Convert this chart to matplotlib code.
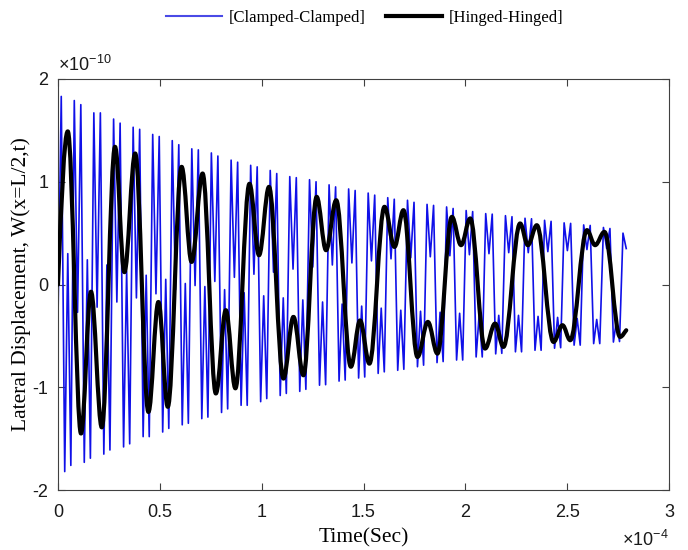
import numpy as np
import matplotlib
matplotlib.use("Agg")
import matplotlib.pyplot as plt
from matplotlib.path import Path
from matplotlib.patches import PathPatch
from matplotlib.lines import Line2D
from matplotlib.ticker import FixedLocator, FuncFormatter

# ---------------- data (time in 1e-4 s, displacement in 1e-10) ----------------
# Clamped-Clamped (blue): turning points
cc_top_t = [0.016, 0.080, 0.112, 0.176, 0.208, 0.273, 0.305, 0.369, 0.401, 0.465, 0.497,
            0.561, 0.593, 0.657, 0.689, 0.753, 0.785, 0.850, 0.882, 0.946, 0.978, 1.042,
            1.074, 1.138, 1.170, 1.235, 1.267, 1.331, 1.363, 1.427, 1.459, 1.523, 1.555,
            1.619, 1.651, 1.716, 1.748, 1.812, 1.844, 1.908, 1.940, 2.004, 2.036, 2.100,
            2.132, 2.197, 2.229, 2.293, 2.325, 2.389, 2.421, 2.485, 2.517, 2.581, 2.613,
            2.678, 2.710, 2.774]
cc_top_v = [1.83, 1.79, 1.75, 1.67, 1.67, 1.61, 1.57, 1.53, 1.51, 1.46, 1.44,
            1.40, 1.36, 1.32, 1.31, 1.28, 1.25, 1.21, 1.19, 1.16, 1.145, 1.11,
            1.08, 1.05, 1.04, 1.02, 1.00, 0.97, 0.95, 0.93, 0.915, 0.89, 0.87,
            0.845, 0.83, 0.82, 0.80, 0.78, 0.77, 0.755, 0.74, 0.72, 0.71, 0.69,
            0.685, 0.67, 0.66, 0.645, 0.64, 0.625, 0.615, 0.60, 0.595, 0.58, 0.575,
            0.555, 0.545, 0.50]
cc_bot_t = [0.033, 0.063, 0.129, 0.159, 0.225, 0.255, 0.322, 0.352, 0.418, 0.448, 0.514,
            0.544, 0.610, 0.640, 0.706, 0.736, 0.803, 0.833, 0.899, 0.929, 0.995, 1.025,
            1.091, 1.121, 1.187, 1.217, 1.284, 1.314, 1.380, 1.410, 1.476, 1.506, 1.572,
            1.602, 1.668, 1.698, 1.765, 1.795, 1.861, 1.891, 1.957, 1.987, 2.053, 2.083,
            2.149, 2.179, 2.246, 2.276, 2.342, 2.372, 2.438, 2.468, 2.534, 2.564, 2.630,
            2.660, 2.727, 2.757]
cc_bot_v = [-1.82, -1.76, -1.73, -1.69, -1.65, -1.61, -1.58, -1.55, -1.48, -1.48, -1.435,
            -1.40, -1.365, -1.35, -1.305, -1.29, -1.245, -1.21, -1.175, -1.175, -1.14, -1.11,
            -1.08, -1.06, -1.04, -1.02, -0.98, -0.975, -0.94, -0.93, -0.91, -0.90, -0.865,
            -0.85, -0.835, -0.825, -0.80, -0.785, -0.76, -0.75, -0.735, -0.735, -0.705, -0.705,
            -0.675, -0.67, -0.655, -0.655, -0.64, -0.64, -0.62, -0.615, -0.59, -0.59, -0.575,
            -0.575, -0.56, -0.555]
cc_dip_t = [0.000, 0.096, 0.192, 0.289, 0.385, 0.481, 0.577, 0.673, 0.770, 0.866,
            0.962, 1.058, 1.154, 1.251, 1.347, 1.443, 1.539, 1.635, 1.732, 1.828,
            1.924, 2.020, 2.116, 2.213, 2.309, 2.405, 2.501, 2.597, 2.694, 2.790]
cc_dip_v = [-0.33, -0.27, -0.22, -0.17, -0.13, -0.09, -0.05, -0.01, 0.03, 0.07,
            0.10, 0.12, 0.15, 0.17, 0.19, 0.21, 0.23, 0.25, 0.26, 0.27,
            0.28, 0.29, 0.30, 0.31, 0.31, 0.32, 0.33, 0.34, 0.35, 0.35]
cc_bump_t = [0.048, 0.144, 0.240, 0.337, 0.433, 0.529, 0.625, 0.721, 0.818, 0.914,
             1.010, 1.106, 1.202, 1.299, 1.395, 1.491, 1.587, 1.683, 1.780, 1.876,
             1.972, 2.068, 2.164, 2.261, 2.357, 2.453, 2.549, 2.645, 2.742]
cc_bump_v = [0.30, 0.24, 0.19, 0.13, 0.09, 0.05, 0.01, -0.02, -0.05, -0.08,
             -0.11, -0.13, -0.15, -0.17, -0.19, -0.21, -0.23, -0.25, -0.26, -0.27,
             -0.28, -0.29, -0.30, -0.30, -0.31, -0.32, -0.33, -0.34, -0.35]

# Hinged-Hinged (black): turning points
hh_t = [0.000, 0.048, 0.113, 0.162, 0.215, 0.280, 0.326, 0.379, 0.444, 0.493, 0.539,
        0.607, 0.656, 0.710, 0.775, 0.824, 0.871, 0.940, 0.987, 1.036, 1.107, 1.156,
        1.205, 1.270, 1.316, 1.366, 1.438, 1.483, 1.529, 1.603, 1.652, 1.696, 1.765,
        1.816, 1.863, 1.934, 1.979, 2.024, 2.097, 2.146, 2.187, 2.269, 2.307, 2.351,
        2.433, 2.477, 2.515, 2.597, 2.637, 2.683, 2.760, 2.790]
hh_v = [0.00, 1.49, -1.45, -0.07, -1.39, 1.34, 0.12, 1.275, -1.24, -0.17, -1.19,
        1.145, 0.22, 1.08, -1.06, -0.25, -1.01, 0.98, 0.285, 0.95, -0.915, -0.315,
        -0.883, 0.853, 0.334, 0.82, -0.80, -0.35, -0.77, 0.756, 0.366, 0.723, -0.705,
        -0.364, -0.672, 0.658, 0.383, 0.643, -0.623, -0.38, -0.607, 0.594, 0.383, 0.577,
        -0.559, -0.396, -0.542, 0.529, 0.383, 0.512, -0.51, -0.445]

x_ticks = [0, 0.5, 1, 1.5, 2, 2.5, 3]
y_ticks = [-2, -1, 0, 1, 2]
legend_labels = ["[Clamped-Clamped]", "[Hinged-Hinged]"]
x_label = "Time(Sec)"
y_label = "Lateral Displacement, W(x=L/2,t)"

T_SCALE = 1e-4
W_SCALE = 1e-10

plt.rcParams["mathtext.default"] = "regular"
SANS = "Liberation Sans"
SERIF = "Liberation Serif"

fig = plt.figure(figsize=(6.88, 5.5), dpi=100)
ax = fig.add_axes([0.0843, 0.109, 0.8881, 0.7474])

# blue series: merge turning points in time order
bt = np.concatenate([cc_top_t, cc_bot_t, cc_dip_t, cc_bump_t])
bv = np.concatenate([cc_top_v, cc_bot_v, cc_dip_v, cc_bump_v])
order = np.argsort(bt)
ax.plot(bt[order] * T_SCALE, bv[order] * W_SCALE, color="#1010e8", lw=1.2, zorder=2)

# black series: smooth curve through turning points (horizontal tangents at extrema)
t = np.asarray(hh_t) * T_SCALE
v = np.asarray(hh_v) * W_SCALE
verts = [(t[0], v[0])]
codes = [Path.MOVETO]
k = 0.364
n = len(t)
for i in range(n - 1):
    dt = t[i + 1] - t[i]
    if i == 0:
        p1 = (t[i] + 0.33 * dt, v[i] + 0.52 * (v[i + 1] - v[i]))
    else:
        p1 = (t[i] + k * dt, v[i])
    if i == n - 2:
        p2 = (t[i + 1] - 0.3 * dt, v[i + 1] - 0.3 * (v[i + 1] - v[i]))
    else:
        p2 = (t[i + 1] - k * dt, v[i + 1])
    verts += [p1, p2, (t[i + 1], v[i + 1])]
    codes += [Path.CURVE4] * 3
ax.add_patch(PathPatch(Path(verts, codes), facecolor="none", edgecolor="black",
                       lw=3.0, capstyle="round", joinstyle="round", zorder=3,
                       transform=ax.transData))

ax.set_xlim(0, 3 * T_SCALE)
ax.set_ylim(-2 * W_SCALE, 2 * W_SCALE)
ax.xaxis.set_major_locator(FixedLocator([x * T_SCALE for x in x_ticks]))
ax.yaxis.set_major_locator(FixedLocator([y * W_SCALE for y in y_ticks]))
ax.xaxis.set_major_formatter(FuncFormatter(lambda val, pos: "%g" % round(val / T_SCALE, 6)))
ax.yaxis.set_major_formatter(FuncFormatter(lambda val, pos: "%g" % round(val / W_SCALE, 6)))
ax.tick_params(direction="in", top=True, right=True, length=5, width=0.8,
               labelsize=13, color="#404040", labelcolor="#1a1a1a")
ax.tick_params(axis="x", pad=10)
ax.tick_params(axis="y", pad=7)
for lab in ax.get_xticklabels() + ax.get_yticklabels():
    lab.set_family(SANS)
for s in ax.spines.values():
    s.set_color("#404040")
    s.set_linewidth(0.8)

ax.set_xlabel(x_label, family=SERIF, fontsize=15.5, labelpad=5)
ax.set_ylabel(y_label, family=SERIF, fontsize=15.5, labelpad=1)

ax.text(0.0, 1.01, r"$\times10^{-10}$", transform=ax.transAxes, ha="left", va="bottom",
        family=SANS, fontsize=13, color="#1a1a1a")
ax.text(1.0, -0.098, r"$\times10^{-4}$", transform=ax.transAxes, ha="right", va="top",
        family=SANS, fontsize=13, color="#1a1a1a")

handles = [Line2D([], [], color="#4a4ae6", lw=1.5), Line2D([], [], color="black", lw=3.0)]
fig.legend(handles, legend_labels, loc="center", bbox_to_anchor=(0.53, 0.968), ncol=2,
           frameon=False, prop={"family": SERIF, "size": 12}, handlelength=3.4,
           handletextpad=0.4, columnspacing=1.2)

fig.savefig("out.png", dpi=100)
